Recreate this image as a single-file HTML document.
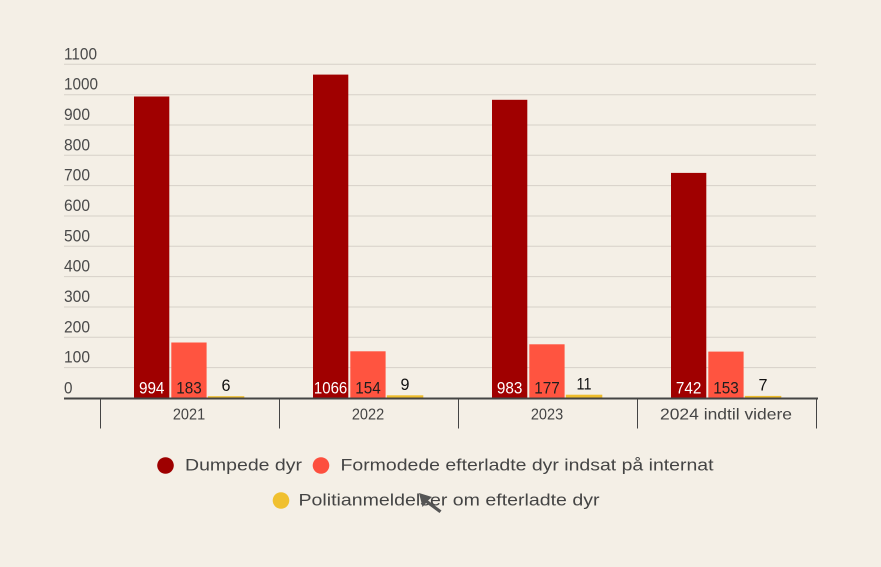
<!DOCTYPE html>
<html><head><meta charset="utf-8"><style>
html,body{margin:0;padding:0;background:#f4efe6;}
svg{display:block;}
text{font-family:"Liberation Sans",sans-serif;}
</style></head><body>
<svg width="881" height="567" viewBox="0 0 881 567" xmlns="http://www.w3.org/2000/svg">
<rect width="881" height="567" fill="#f4efe6"/>
<g stroke="#d6d1c8" stroke-width="1">
<line x1="64" x2="816" y1="64.3" y2="64.3"/>
<line x1="64" x2="816" y1="94.7" y2="94.7"/>
<line x1="64" x2="816" y1="125" y2="125"/>
<line x1="64" x2="816" y1="155.3" y2="155.3"/>
<line x1="64" x2="816" y1="185.6" y2="185.6"/>
<line x1="64" x2="816" y1="216" y2="216"/>
<line x1="64" x2="816" y1="246.3" y2="246.3"/>
<line x1="64" x2="816" y1="276.6" y2="276.6"/>
<line x1="64" x2="816" y1="307" y2="307"/>
<line x1="64" x2="816" y1="337.3" y2="337.3"/>
<line x1="64" x2="816" y1="367.6" y2="367.6"/>
</g>
<g font-size="16.5" fill="#4a4a4a" lengthAdjust="spacingAndGlyphs">
<text x="64" y="59.3" textLength="33" lengthAdjust="spacingAndGlyphs">1100</text>
<text x="64" y="89.7" textLength="34" lengthAdjust="spacingAndGlyphs">1000</text>
<text x="64" y="120" textLength="26" lengthAdjust="spacingAndGlyphs">900</text>
<text x="64" y="150.3" textLength="26" lengthAdjust="spacingAndGlyphs">800</text>
<text x="64" y="180.6" textLength="26" lengthAdjust="spacingAndGlyphs">700</text>
<text x="64" y="211" textLength="26" lengthAdjust="spacingAndGlyphs">600</text>
<text x="64" y="241.3" textLength="26" lengthAdjust="spacingAndGlyphs">500</text>
<text x="64" y="271.6" textLength="26" lengthAdjust="spacingAndGlyphs">400</text>
<text x="64" y="302" textLength="26" lengthAdjust="spacingAndGlyphs">300</text>
<text x="64" y="332.3" textLength="26" lengthAdjust="spacingAndGlyphs">200</text>
<text x="64" y="362.6" textLength="26" lengthAdjust="spacingAndGlyphs">100</text>
<text x="64" y="393.3" textLength="8.5" lengthAdjust="spacingAndGlyphs">0</text>
</g>
<!-- bars -->
<g>
<rect x="134" y="96.5" width="35.3" height="301.5" fill="#a00000"/>
<rect x="171.3" y="342.5" width="35.3" height="55.5" fill="#ff5440"/>
<rect x="207.8" y="396.2" width="36.5" height="1.8" fill="#eebd2c"/>

<rect x="313" y="74.6" width="35.3" height="323.4" fill="#a00000"/>
<rect x="350.3" y="351.3" width="35.3" height="46.7" fill="#ff5440"/>
<rect x="386.8" y="395.3" width="36.5" height="2.7" fill="#eebd2c"/>

<rect x="492" y="99.8" width="35.3" height="298.2" fill="#a00000"/>
<rect x="529.3" y="344.3" width="35.3" height="53.7" fill="#ff5440"/>
<rect x="565.8" y="394.7" width="36.5" height="3.3" fill="#eebd2c"/>

<rect x="671" y="172.9" width="35.3" height="225.1" fill="#a00000"/>
<rect x="708.3" y="351.6" width="35.3" height="46.4" fill="#ff5440"/>
<rect x="744.8" y="395.9" width="36.5" height="2.1" fill="#eebd2c"/>
</g>
<g font-size="16.5" text-anchor="middle">
<text x="151.7" y="393.3" fill="#fff" textLength="25.5" lengthAdjust="spacingAndGlyphs">994</text>
<text x="189" y="393.3" fill="#1e1e1e" textLength="25.5" lengthAdjust="spacingAndGlyphs">183</text>
<text x="226" y="391" fill="#111" textLength="9" lengthAdjust="spacingAndGlyphs">6</text>

<text x="330.6" y="393.3" fill="#fff" textLength="33.4" lengthAdjust="spacingAndGlyphs">1066</text>
<text x="368" y="393.3" fill="#1e1e1e" textLength="25.5" lengthAdjust="spacingAndGlyphs">154</text>
<text x="405" y="390" fill="#111" textLength="9" lengthAdjust="spacingAndGlyphs">9</text>

<text x="509.6" y="393.3" fill="#fff" textLength="25.5" lengthAdjust="spacingAndGlyphs">983</text>
<text x="547" y="393.3" fill="#1e1e1e" textLength="25.5" lengthAdjust="spacingAndGlyphs">177</text>
<text x="584" y="389.3" fill="#111" textLength="15" lengthAdjust="spacingAndGlyphs">11</text>

<text x="688.6" y="393.3" fill="#fff" textLength="25.5" lengthAdjust="spacingAndGlyphs">742</text>
<text x="726" y="393.3" fill="#1e1e1e" textLength="25.5" lengthAdjust="spacingAndGlyphs">153</text>
<text x="763" y="390.5" fill="#111" textLength="9" lengthAdjust="spacingAndGlyphs">7</text>
</g>
<!-- axis -->
<line x1="64" x2="818" y1="398.5" y2="398.5" stroke="#444" stroke-width="2"/>
<g stroke="#444" stroke-width="1">
<line x1="100.5" x2="100.5" y1="399" y2="428.5"/>
<line x1="279.5" x2="279.5" y1="399" y2="428.5"/>
<line x1="458.5" x2="458.5" y1="399" y2="428.5"/>
<line x1="637.5" x2="637.5" y1="399" y2="428.5"/>
<line x1="816.5" x2="816.5" y1="399" y2="428.5"/>
</g>
<g font-size="16" fill="#444" text-anchor="middle">
<text x="189" y="419.3" textLength="32.3" lengthAdjust="spacingAndGlyphs">2021</text>
<text x="368" y="419.3" textLength="32.3" lengthAdjust="spacingAndGlyphs">2022</text>
<text x="547" y="419.3" textLength="32.3" lengthAdjust="spacingAndGlyphs">2023</text>
<text x="726" y="419.3" textLength="132" lengthAdjust="spacingAndGlyphs">2024 indtil videre</text>
</g>
<!-- legend -->
<circle cx="165.5" cy="465.5" r="8.3" fill="#9e0000"/>
<text x="185" y="470.7" font-size="17" fill="#444" textLength="117" lengthAdjust="spacingAndGlyphs">Dumpede dyr</text>
<circle cx="321" cy="465.5" r="8.3" fill="#fd4f3e"/>
<text x="340.5" y="470.7" font-size="17" fill="#444" textLength="373" lengthAdjust="spacingAndGlyphs">Formodede efterladte dyr indsat på internat</text>
<circle cx="281" cy="500.5" r="8.3" fill="#f0c02f"/>
<text x="298.5" y="505.7" font-size="17" fill="#444" textLength="301" lengthAdjust="spacingAndGlyphs">Politianmeldelser om efterladte dyr</text>
<!-- cursor -->
<polygon points="419,493 432,497 428,500.5 441.5,510.5 439.5,513 426,503 422.5,507" fill="#555"/>
</svg>
</body></html>
